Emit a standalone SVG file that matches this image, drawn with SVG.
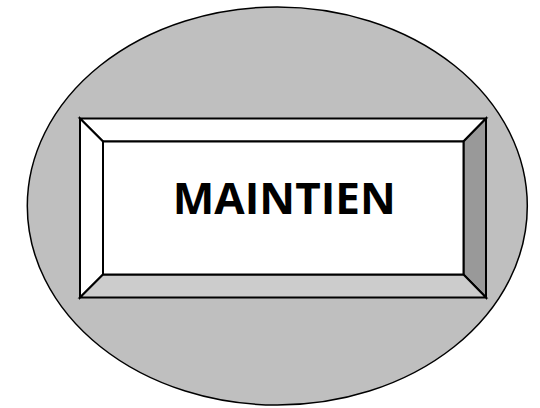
<svg xmlns="http://www.w3.org/2000/svg" width="540" height="408" viewBox="0 0 540 408">
<style>
.ln{stroke:#000;stroke-width:2;stroke-linejoin:miter}
.lbl{font-family:"Open Sans","Liberation Sans",sans-serif;font-weight:bold;font-size:43px;fill:#000}
</style>
<rect width="540" height="408" fill="#fff"/>
<g id="ellipse">
<ellipse cx="277.3" cy="206" rx="250" ry="199" fill="#bfbfbf" stroke="#000" stroke-width="1.5"/>
</g>
<g id="button">
<polygon points="80,118.5 486,118.5 463.5,141.5 103,141.5" fill="#fff" class="ln"/>
<polygon points="80,118.5 103,141.5 103,274.5 80,297.5" fill="#fff" class="ln"/>
<polygon points="486,118.5 486,297.5 463.5,274.5 463.5,141.5" fill="#999" class="ln"/>
<polygon points="80,297.5 103,274.5 463.5,274.5 486,297.5" fill="#ccc" class="ln"/>
<rect x="103" y="141.5" width="360.5" height="133" fill="#fff" class="ln"/>
<text x="284.3" y="214.3" text-anchor="middle" class="lbl" textLength="223" lengthAdjust="spacingAndGlyphs">MAINTIEN</text>
</g>
</svg>
